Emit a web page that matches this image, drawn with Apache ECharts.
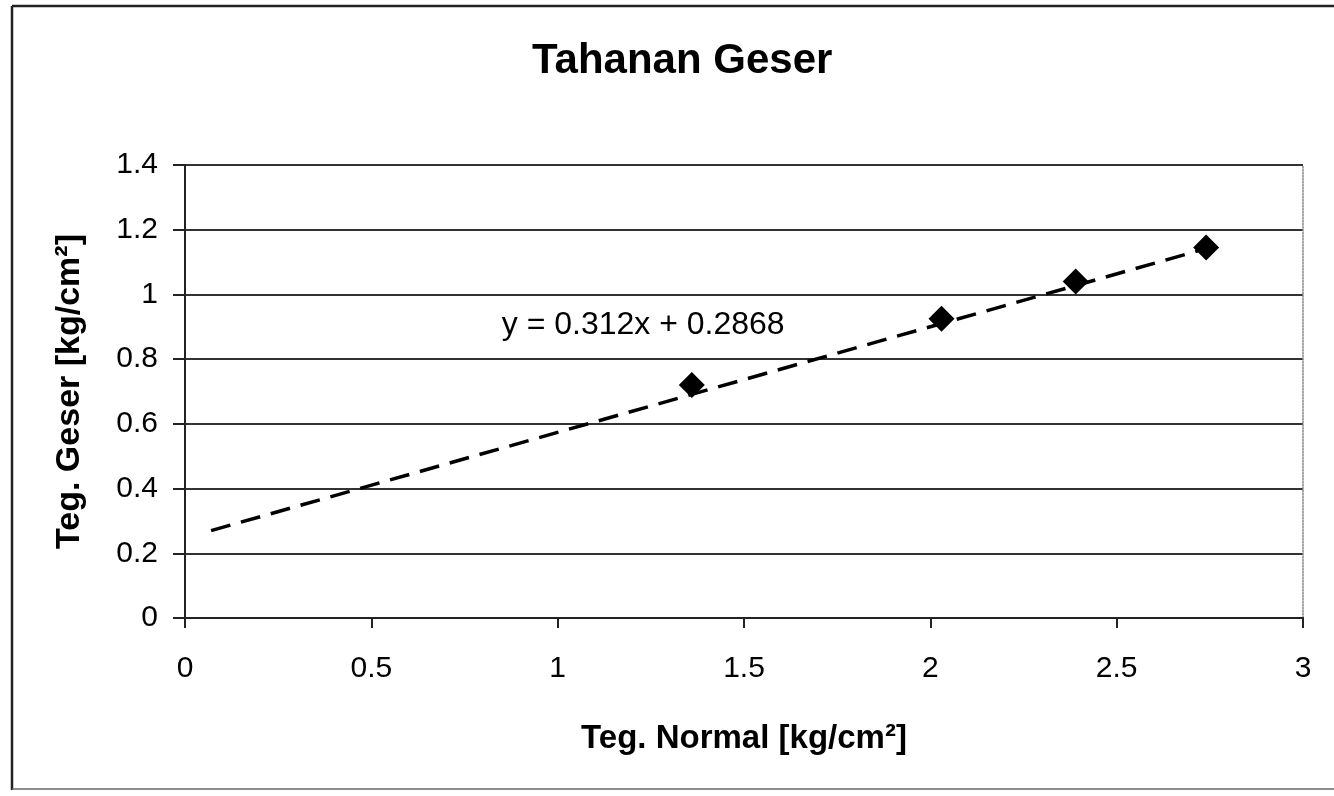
<!DOCTYPE html>
<html>
<head>
<meta charset="utf-8">
<script src="https://cdn.jsdelivr.net/npm/echarts@6/dist/echarts.min.js"></script>
<style>
html,body{margin:0;padding:0;background:#fff;}
#chart{width:1334px;height:796px;}
</style>
</head>
<body>
<div id="chart"></div>
<script>
const chartTitle = 'Tahanan Geser';
const xAxisName = 'Teg. Normal [kg/cm²]';
const yAxisName = 'Teg. Geser [kg/cm²]';
const normalStress = [1.36, 2.03, 2.39, 2.74];
const shearStress = [0.72, 0.925, 1.04, 1.145];
const trendX = [0.07, 2.75];
const trendY = [0.27, 1.145];
const equationText = 'y = 0.312x + 0.2868';
const equationAnchor = [0.85, 0.905];

const font = 'Liberation Sans, Arial, sans-serif';
const chart = echarts.init(document.getElementById('chart'));
chart.setOption({
  backgroundColor: '#fff',
  animation: false,
  title: {
    text: chartTitle, left: 527, top: 35,
    textStyle: {fontFamily: font, fontSize: 42, fontWeight: 'bold', color: '#000'}
  },
  grid: {left: 185, right: 31, top: 165, bottom: 178},
  xAxis: {
    type: 'value', min: 0, max: 3, interval: 0.5,
    name: xAxisName, nameLocation: 'middle', nameGap: 104,
    nameTextStyle: {fontFamily: font, fontSize: 33, fontWeight: 'bold', color: '#000'},
    axisLine: {lineStyle: {color: '#222', width: 2}},
    axisTick: {show: true, length: 10, lineStyle: {color: '#222', width: 2}},
    axisLabel: {fontFamily: font, fontSize: 30, color: '#000', margin: 36},
    splitLine: {show: false}
  },
  yAxis: [{
    type: 'value', min: 0, max: 1.4, interval: 0.2,
    name: yAxisName, nameLocation: 'middle', nameGap: 98,
    nameTextStyle: {fontFamily: font, fontSize: 34, fontWeight: 'bold', color: '#000'},
    axisLine: {show: true, lineStyle: {color: '#222', width: 2}},
    axisTick: {show: true, length: 12, lineStyle: {color: '#222', width: 2}},
    axisLabel: {fontFamily: font, fontSize: 30, color: '#000', margin: 27},
    splitLine: {show: true, lineStyle: {color: '#333', width: 2}}
  }, {
    type: 'value', min: 0, max: 1.4, interval: 0.2, position: 'right',
    axisLine: {show: true, lineStyle: {color: '#888', width: 1.5, type: 'dotted'}},
    axisTick: {show: false}, axisLabel: {show: false}, splitLine: {show: false}
  }],
  series: [{
    type: 'line',
    data: trendX.map((x, i) => [x, trendY[i]]),
    symbol: 'none',
    lineStyle: {color: '#000', width: 3.5, type: [20, 11]},
    markPoint: {
      symbol: 'circle', symbolSize: 0,
      data: [{coord: equationAnchor, value: equationText}],
      label: {show: true, position: 'right', distance: 0, formatter: equationText,
        fontFamily: font, fontSize: 32, color: '#000'}
    },
    z: 3
  }, {
    type: 'scatter',
    data: normalStress.map((x, i) => [x, shearStress[i]]),
    symbol: 'diamond', symbolSize: 26,
    itemStyle: {color: '#000', opacity: 1},
    z: 4
  }],
  graphic: [
    {type: 'line', shape: {x1: 12, y1: 6, x2: 1334, y2: 6}, style: {stroke: '#222', lineWidth: 2.5}},
    {type: 'line', shape: {x1: 12, y1: 6, x2: 12, y2: 790}, style: {stroke: '#222', lineWidth: 2.5}},
    {type: 'line', shape: {x1: 12, y1: 789, x2: 1334, y2: 789}, style: {stroke: '#666', lineWidth: 1.5}}
  ]
});
</script>
</body>
</html>
